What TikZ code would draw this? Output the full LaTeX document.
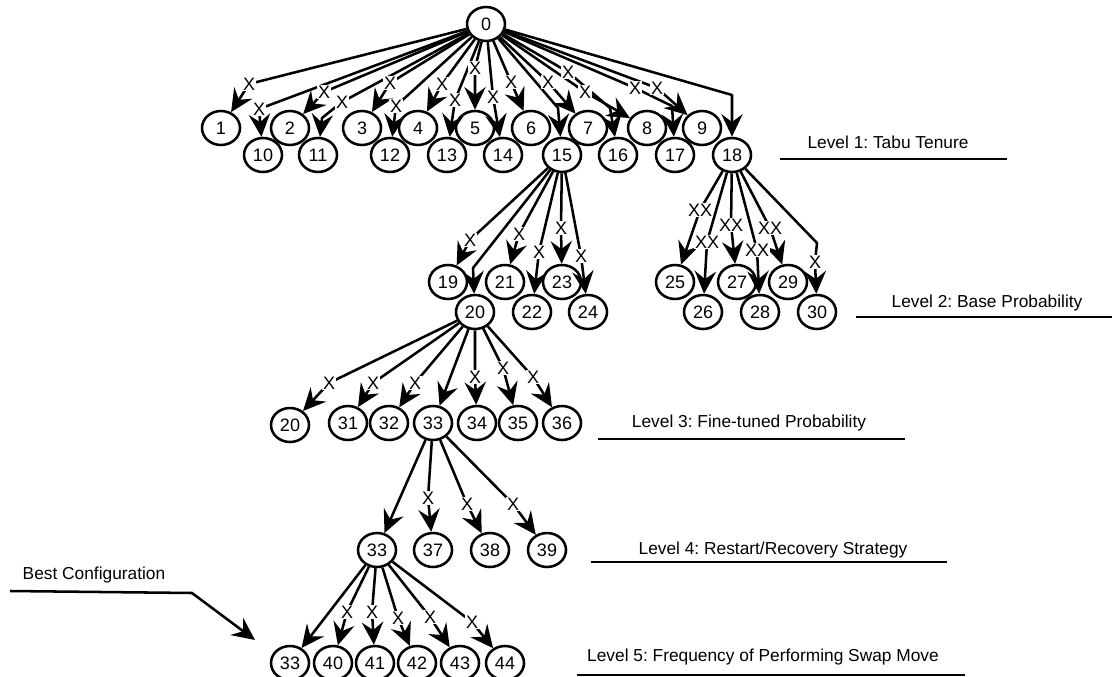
\documentclass[tikz,border=0pt]{standalone}
\usepackage{fontspec}
\setmainfont{Liberation Sans}
\usetikzlibrary{arrows.meta,shapes.geometric}
\frenchspacing
\begin{document}
\begin{tikzpicture}[x=0.75pt,y=-0.75pt,
  nd/.style={ellipse,draw,line width=1.9pt,fill=white,minimum width=28.5pt,minimum height=25.5pt,inner sep=0pt,font=\fontsize{13.5}{15}\selectfont},
  ed/.style={line width=1.9pt,line join=round,-{Stealth[length=17pt,width=16pt,inset=6pt]}},
  xm/.style={fill=white,inner sep=0.6pt,font=\fontsize{13.5}{15}\selectfont},
  lev/.style={font=\fontsize{13}{15}\selectfont,inner sep=0pt},
  rule/.style={line width=1.9pt}]
\useasboundingbox (0,0) rectangle (1112,677);

% ---------- nodes ----------
\node[nd] (n0) at (486,24) {0};
\node[nd] (n1) at (221,128) {1};
\node[nd] (n2) at (290,128) {2};
\node[nd] (n3) at (362,128) {3};
\node[nd] (n4) at (418,128) {4};
\node[nd] (n5) at (475,128) {5};
\node[nd] (n6) at (531,128) {6};
\node[nd] (n7) at (588,128) {7};
\node[nd] (n8) at (647,128) {8};
\node[nd] (n9) at (702,128) {9};
\node[nd] (n10) at (263,155) {10};
\node[nd] (n11) at (318,155) {11};
\node[nd] (n12) at (390,155) {12};
\node[nd] (n13) at (447,155) {13};
\node[nd] (n14) at (503,155) {14};
\node[nd] (n15) at (562,155) {15};
\node[nd] (n16) at (618,155) {16};
\node[nd] (n17) at (675,155) {17};
\node[nd] (n18) at (732,155) {18};

\node[nd] (n19) at (448,282) {19};
\node[nd] (n21) at (505,282) {21};
\node[nd] (n23) at (562,282) {23};
\node[nd] (n20) at (475,312) {20};
\node[nd] (n22) at (532,312) {22};
\node[nd] (n24) at (588,312) {24};
\node[nd] (n25) at (675,282) {25};
\node[nd] (n27) at (737,282) {27};
\node[nd] (n29) at (788,282) {29};
\node[nd] (n26) at (703,312) {26};
\node[nd] (n28) at (760,312) {28};
\node[nd] (n30) at (817,312) {30};

\node[nd] (n20b) at (290,425) {20};
\node[nd] (n31) at (348,423) {31};
\node[nd] (n32) at (389,423) {32};
\node[nd] (n33) at (433,423) {33};
\node[nd] (n34) at (477,423) {34};
\node[nd] (n35) at (518,423) {35};
\node[nd] (n36) at (562,423) {36};

\node[nd] (n33b) at (377,550) {33};
\node[nd] (n37) at (433,550) {37};
\node[nd] (n38) at (490,550) {38};
\node[nd] (n39) at (547,550) {39};

\node[nd] (n33c) at (290,663) {33};
\node[nd] (n40) at (333,663) {40};
\node[nd] (n41) at (375,663) {41};
\node[nd] (n42) at (417,663) {42};
\node[nd] (n43) at (460,663) {43};
\node[nd] (n44) at (505,663) {44};

% ---------- X positions and bends ----------
\coordinate (c1) at (249,84);
\coordinate (c10) at (259,109);
\coordinate (c2) at (324,92);
\coordinate (c11) at (342,102);
\coordinate (b11) at (322,118);
\coordinate (c3) at (390,83);
\coordinate (c12) at (396,106);
\coordinate (c4) at (442,84);
\coordinate (c13) at (455,100);
\coordinate (c5) at (475,68);
\coordinate (c14) at (493,97);
\coordinate (c6) at (511,82);
\coordinate (b15) at (558,108);
\coordinate (c7) at (548,82);
\coordinate (c16) at (568,72);
\coordinate (b16) at (610,108);
\coordinate (c8) at (585,92);
\coordinate (c17) at (635,88);
\coordinate (b17) at (672,106);
\coordinate (c9) at (657,88);
\coordinate (b18) at (732,95);

\coordinate (c19) at (470,240);
\coordinate (b20) at (473,268);
\coordinate (c21) at (519,234);
\coordinate (c22) at (539,252);
\coordinate (c23) at (561,228);
\coordinate (c24) at (581,256);
\coordinate (c25) at (700,210);
\coordinate (c26) at (707,242);
\coordinate (c27) at (731,225);
\coordinate (c28) at (757,250);
\coordinate (c29) at (770,228);
\coordinate (b30) at (817,243);
\coordinate (c30) at (815,262);

\coordinate (c20b) at (329,383);
\coordinate (c31) at (373,383);
\coordinate (c32) at (415,383);
\coordinate (c34) at (475,377);
\coordinate (c35) at (503,368);
\coordinate (c36) at (533,377);

\coordinate (c37) at (428,498);
\coordinate (c38) at (467,504);
\coordinate (c39) at (513,504);

\coordinate (c40) at (347,612);
\coordinate (c41) at (372,612);
\coordinate (c42) at (398,618);
\coordinate (c43) at (430,617);
\coordinate (c44) at (472,622);

% ---------- edges level 1 ----------
\draw[ed] (n0) -- (c1) -- (n1);
\draw[ed] (n0) -- (c10) -- (n10);
\draw[ed] (n0) -- (c2) -- (n2);
\draw[ed] (n0) -- (c11) -- (b11) -- (n11);
\draw[ed] (n0) -- (c3) -- (n3);
\draw[ed] (n0) -- (c12) -- (n12);
\draw[ed] (n0) -- (c4) -- (n4);
\draw[ed] (n0) -- (c13) -- (n13);
\draw[ed] (n0) -- (c5) -- (n5);
\draw[ed] (n0) -- (c14) -- (n14);
\draw[ed] (n0) -- (c6) -- (n6);
\draw[ed] (n0) -- (b15) -- (n15);
\draw[ed] (n0) -- (c7) -- (n7);
\draw[ed] (n0) -- (c16) -- (b16) -- (n16);
\draw[ed] (n0) -- (c8) -- (n8);
\draw[ed] (n0) -- (c17) -- (b17) -- (n17);
\draw[ed] (n0) -- (c9) -- (n9);
\draw[ed] (n0) -- (b18) -- (n18);

% ---------- edges level 2 ----------
\draw[ed] (n15) -- (c19) -- (n19);
\draw[ed] (n15) -- (b20) -- (n20);
\draw[ed] (n15) -- (c21) -- (n21);
\draw[ed] (n15) -- (c22) -- (n22);
\draw[ed] (n15) -- (c23) -- (n23);
\draw[ed] (n15) -- (c24) -- (n24);
\draw[ed] (n18) -- (c25) -- (n25);
\draw[ed] (n18) -- (c26) -- (n26);
\draw[ed] (n18) -- (c27) -- (n27);
\draw[ed] (n18) -- (c28) -- (n28);
\draw[ed] (n18) -- (c29) -- (n29);
\draw[ed] (n18) -- (b30) -- (c30) -- (n30);

% ---------- edges level 3 ----------
\draw[ed] (n20) -- (c20b) -- (n20b);
\draw[ed] (n20) -- (c31) -- (n31);
\draw[ed] (n20) -- (c32) -- (n32);
\draw[ed] (n20) -- (n33);
\draw[ed] (n20) -- (c34) -- (n34);
\draw[ed] (n20) -- (c35) -- (n35);
\draw[ed] (n20) -- (c36) -- (n36);

% ---------- edges level 4 ----------
\draw[ed] (n33) -- (n33b);
\draw[ed] (n33) -- (c37) -- (n37);
\draw[ed] (n33) -- (c38) -- (n38);
\draw[ed] (n33) -- (c39) -- (n39);

% ---------- edges level 5 ----------
\draw[ed] (n33b) -- (n33c);
\draw[ed] (n33b) -- (c40) -- (n40);
\draw[ed] (n33b) -- (c41) -- (n41);
\draw[ed] (n33b) -- (c42) -- (n42);
\draw[ed] (n33b) -- (c43) -- (n43);
\draw[ed] (n33b) -- (c44) -- (n44);

% ---------- X marks ----------
\foreach \c in {c1,c10,c2,c11,c3,c12,c4,c13,c5,c14,c6,c7,c16,c8,c17,c9,
                c19,c21,c22,c23,c24,c30,c20b,c31,c32,c34,c35,c36,
                c37,c38,c39,c40,c41,c42,c43,c44}
  \node[xm] (x\c) at (\c) {X};
\foreach \c in {c25,c26,c27,c28,c29}
  \node[xm] (x\c) at (\c) {XX};

% ---------- level labels ----------
\node[lev] (lv1) at (888,142) {Level 1: Tabu Tenure};
\coordinate (r1a) at (780,159); \coordinate (r1b) at (1007,159);
\draw[rule] (r1a) -- (r1b);
\node[lev] (lv2) at (987,303) {Level 2: Base Probability};
\coordinate (r2a) at (856,317); \coordinate (r2b) at (1112,317);
\draw[rule] (r2a) -- (r2b);
\node[lev] (lv3) at (749,423) {Level 3: Fine-tuned Probability};
\coordinate (r3a) at (598,439); \coordinate (r3b) at (905,439);
\draw[rule] (r3a) -- (r3b);
\node[lev] (lv4) at (773,550) {Level 4: Restart/Recovery Strategy};
\coordinate (r4a) at (591,562); \coordinate (r4b) at (947,562);
\draw[rule] (r4a) -- (r4b);
\node[lev] (lv5) at (763,657) {Level 5: Frequency of Performing Swap Move};
\coordinate (r5a) at (577,675); \coordinate (r5b) at (965,675);
\draw[rule] (r5a) -- (r5b);

% ---------- best configuration ----------
\node[lev] (best) at (94,575) {Best Configuration};
\coordinate (bc1) at (10,591);
\coordinate (bc2) at (192,593);
\coordinate (bc3) at (255,640);
\draw[ed] (bc1) -- (bc2) -- (bc3);
\end{tikzpicture}
\end{document}
